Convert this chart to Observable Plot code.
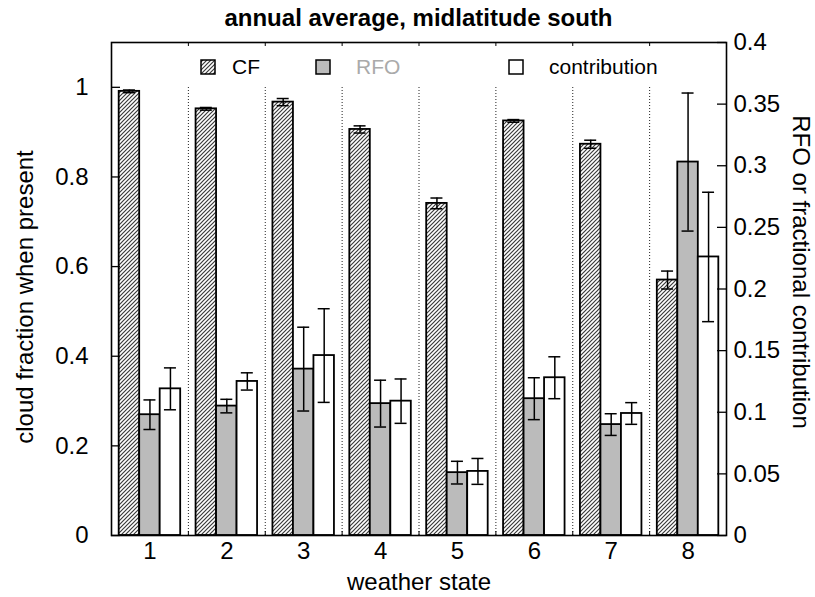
<!DOCTYPE html>
<html>
<head>
<meta charset="utf-8">
<script src="https://cdn.jsdelivr.net/npm/d3@7"></script>
<script src="https://cdn.jsdelivr.net/npm/@observablehq/plot@0.6"></script>
<style>
  body { margin: 0; background: #fff; font-family: "Liberation Sans", Arial, Helvetica, sans-serif; }
  #wrap { position: relative; width: 815px; height: 597px; }
  #title { position: absolute; left: 0; top: 0; box-sizing: border-box; width: 815px; height: 36px; line-height: 36px;
           padding: 0 89px 0 111px; text-align: center; font-weight: bold; font-size: 24px; color: #000; z-index: 2; }
  .key { position: absolute; top: 58px; height: 18px; display: flex; align-items: center; font-size: 21px; z-index: 2; }
  .key svg { display: block; }
  .key span { position: absolute; white-space: nowrap; }
</style>
</head>
<body>
<div id="wrap">
  <div id="title">annual average, midlatitude south</div>
  <div id="chart"></div>
</div>
<script>
// Weather states (x categories)
const states = [1, 2, 3, 4, 5, 6, 7, 8];

// Cloud fraction when present (left axis) with error half-widths
const cf    = [0.991, 0.952, 0.967, 0.906, 0.741, 0.925, 0.873, 0.570];
const cfErr = [0.003, 0.003, 0.008, 0.008, 0.012, 0.003, 0.009, 0.020];

// Relative frequency of occurrence (right axis)
const rfo    = [0.098, 0.105, 0.135, 0.107, 0.051, 0.111, 0.090, 0.303];
const rfoErr = [0.012, 0.0055, 0.034, 0.019, 0.0092, 0.017, 0.0088, 0.056];

// Fractional contribution (right axis)
const contrib    = [0.119, 0.125, 0.146, 0.109, 0.052, 0.128, 0.099, 0.226];
const contribErr = [0.017, 0.007, 0.038, 0.018, 0.0105, 0.017, 0.0088, 0.0525];

// Axis ticks
const leftTicks  = [0, 0.2, 0.4, 0.6, 0.8, 1];
const rightTicks = [0, 0.05, 0.1, 0.15, 0.2, 0.25, 0.3, 0.35, 0.4];
const separators = [1.5, 2.5, 3.5, 4.5, 5.5, 6.5, 7.5];

const leftMax = 1.1, rightMax = 0.4;
const ratio = leftMax / rightMax;      // right-axis units -> left-axis units

const width = 815, height = 597;
const margin = {top: 42, right: 89, bottom: 62, left: 111};
const frameW = width - margin.left - margin.right;
const frameH = height - margin.top - margin.bottom;

// Three bars per state, spanning 0.8 of a category
const barW = 0.8 / 3;
const series = [
  {key: "CF",   values: cf,      errs: cfErr,      scale: 1,     fill: "url(#hatch)", offset: -barW},
  {key: "RFO",  values: rfo,     errs: rfoErr,     scale: ratio, fill: "#bbbbbb",     offset: 0},
  {key: "contribution", values: contrib, errs: contribErr, scale: ratio, fill: "#ffffff", offset: barW}
];
const rows = series.flatMap(s => states.map((st, i) => ({
  series: s.key, fill: s.fill,
  xc: st + s.offset,
  x1: st + s.offset - barW / 2,
  x2: st + s.offset + barW / 2,
  y: s.values[i] * s.scale,
  lo: (s.values[i] - s.errs[i]) * s.scale,
  hi: (s.values[i] + s.errs[i]) * s.scale
})));
const cap = 0.078;
const fmt = v => String(+v.toFixed(3));

const barMarks = series.map(s =>
  Plot.rect(rows.filter(r => r.series === s.key), {
    x1: "x1", x2: "x2", y1: 0, y2: "y",
    fill: s.fill, stroke: "black", strokeWidth: 1.8
  })
);

const labelStyle = {text: d => d, textAnchor: "middle", lineAnchor: "middle", fontSize: 24, fill: "black"};

const chart = Plot.plot({
  width, height,
  marginTop: margin.top, marginRight: margin.right,
  marginBottom: margin.bottom, marginLeft: margin.left,
  style: {fontFamily: "'Liberation Sans', Arial, Helvetica, sans-serif", fontSize: "24px", color: "black", background: "white"},
  x: {domain: [0.5, 8.5]},
  y: {domain: [0, leftMax]},
  marks: [
    // dotted separators between weather states
    Plot.ruleX(separators, {x: d => d, y1: 0, y2: 1, stroke: "#222", strokeWidth: 1, strokeDasharray: "1,2"}),
    ...barMarks,
    // error bars
    Plot.ruleX(rows, {x: "xc", y1: "lo", y2: "hi", stroke: "black", strokeWidth: 1.5}),
    Plot.ruleY(rows, {y: "hi", x1: d => d.xc - cap, x2: d => d.xc + cap, stroke: "black", strokeWidth: 1.5}),
    Plot.ruleY(rows, {y: "lo", x1: d => d.xc - cap, x2: d => d.xc + cap, stroke: "black", strokeWidth: 1.5}),
    // inward ticks
    Plot.tickY(leftTicks, {y: d => d, insetRight: frameW - 9, stroke: "black", strokeWidth: 1.3}),
    Plot.tickY(rightTicks, {y: d => d * ratio, insetLeft: frameW - 9, stroke: "black", strokeWidth: 1.3}),
    Plot.tickX(separators, {x: d => d, insetBottom: frameH - 4, stroke: "black", strokeWidth: 1}),
    Plot.tickX(separators, {x: d => d, insetTop: frameH - 4, stroke: "black", strokeWidth: 1}),
    Plot.frame({stroke: "black", strokeWidth: 1.6}),
    // tick labels
    Plot.axisY({anchor: "left", ticks: leftTicks, tickSize: 0, tickPadding: 23, tickFormat: fmt, label: null}),
    Plot.axisY({anchor: "right", ticks: rightTicks.map(r => r * ratio), tickSize: 0, tickPadding: 7,
                tickFormat: v => fmt(v / ratio), label: null}),
    Plot.axisX({anchor: "bottom", ticks: states, tickSize: 0, tickPadding: 6, tickFormat: d => String(d), label: null}),
    // axis titles
    Plot.text(["cloud fraction when present"], {...labelStyle, frameAnchor: "left", rotate: -90, dx: -86, dy: 8}),
    Plot.text(["RFO or fractional contribution"], {...labelStyle, frameAnchor: "right", rotate: 90, dx: 74, dy: -17}),
    Plot.text(["weather state"], {...labelStyle, frameAnchor: "bottom", dy: 47})
  ]
});

const svgEl = chart.tagName.toLowerCase() === "svg" ? chart : chart.querySelector("svg");
// diagonal hatch used by the CF bars and their key swatch
const pattern = d3.select(svgEl).insert("defs", ":first-child")
  .append("pattern").attr("id", "hatch").attr("patternUnits", "userSpaceOnUse")
  .attr("width", 4).attr("height", 4);
pattern.append("rect").attr("width", 4).attr("height", 4).attr("fill", "#ffffff");
pattern.append("path").attr("d", "M-1,1 l2,-2 M0,4 l4,-4 M3,5 l2,-2")
  .attr("stroke", "#3a3a3a").attr("stroke-width", 1.2);

document.getElementById("chart").appendChild(chart);

// key inside the plot frame
const keyItems = [
  {label: "CF",           fill: "url(#hatch)", color: "#000",    box: 200, text: 232},
  {label: "RFO",          fill: "#bbbbbb",     color: "#aaaaaa", box: 315, text: 356},
  {label: "contribution", fill: "#ffffff",     color: "#000",    box: 508, text: 549}
];
const wrap = document.getElementById("wrap");
for (const k of keyItems) {
  const sw = document.createElement("div");
  sw.className = "key";
  sw.style.left = k.box + "px";
  sw.innerHTML = `<svg width="16" height="16"><rect x="1" y="1" width="14" height="14" fill="${k.fill}" stroke="black" stroke-width="1.5"/></svg>`;
  wrap.appendChild(sw);
  const tx = document.createElement("div");
  tx.className = "key";
  tx.style.left = k.text + "px";
  tx.style.color = k.color;
  tx.innerHTML = `<span>${k.label}</span>`;
  wrap.appendChild(tx);
}
</script>
</body>
</html>
